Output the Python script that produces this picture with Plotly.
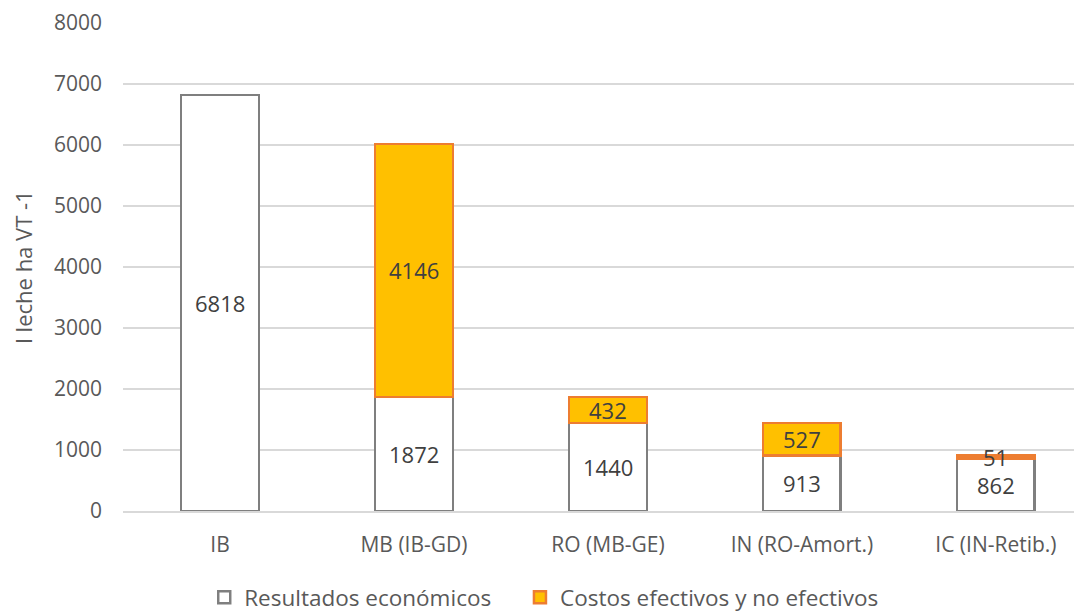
import plotly.graph_objects as go

categories = ["IB", "MB (IB-GD)", "RO (MB-GE)", "IN (RO-Amort.)", "IC (IN-Retib.)"]
resultados = [6818, 1872, 1440, 913, 862]
costos = [None, 4146, 432, 527, 51]
y_ticks = [0, 1000, 2000, 3000, 4000, 5000, 6000, 7000, 8000]

FONT = "Open Sans"
fig = go.Figure()
fig.add_bar(
    x=categories, y=resultados, name="Resultados económicos",
    marker=dict(color="white", line=dict(color="#7f7f7f", width=2.5)),
    width=0.4, legend="legend",
)
fig.add_bar(
    x=categories, y=costos, name="Costos efectivos y no efectivos",
    marker=dict(color="#FFC000", line=dict(color="#ED7D31", width=2.5)),
    width=0.4, legend="legend2",
)

annotations = []
for c, r, k in zip(categories, resultados, costos):
    annotations.append(dict(x=c, y=r / 2, text=str(r), showarrow=False,
                            font=dict(family=FONT, size=22, color="#404040")))
    if k:
        annotations.append(dict(x=c, y=r + k / 2, text=str(k), showarrow=False,
                                font=dict(family=FONT, size=22, color="#404040")))

legend_font = dict(family=FONT, size=22.5, color="#595959")
fig.update_layout(
    width=1082, height=611,
    barmode="stack",
    plot_bgcolor="white", paper_bgcolor="white",
    margin=dict(l=115, r=0, t=15, b=106),
    font=dict(family=FONT, color="#595959"),
    annotations=annotations,
    showlegend=True,
    legend=dict(orientation="h", x=0.084, xanchor="left", y=-0.178, yanchor="middle",
                font=legend_font),
    legend2=dict(orientation="h", x=0.4105, xanchor="left", y=-0.178, yanchor="middle",
                 font=legend_font),
    xaxis=dict(range=[-0.5, 4.485], showgrid=False, showline=True,
               linecolor="#d9d9d9", linewidth=2,
               tickfont=dict(family=FONT, size=21, color="#595959"), ticks="",
               ticklabelstandoff=14),
    yaxis=dict(range=[0, 8000], tickvals=y_ticks, showgrid=True, gridcolor="#d9d9d9",
               gridwidth=2, zeroline=False, showline=False,
               tickfont=dict(family=FONT, size=21, color="#595959"), ticklabelstandoff=20,
               title=dict(text="l leche ha VT -1", font=dict(family=FONT, size=22, color="#595959"),
                          standoff=16)),
)
fig.write_html("out.html")
